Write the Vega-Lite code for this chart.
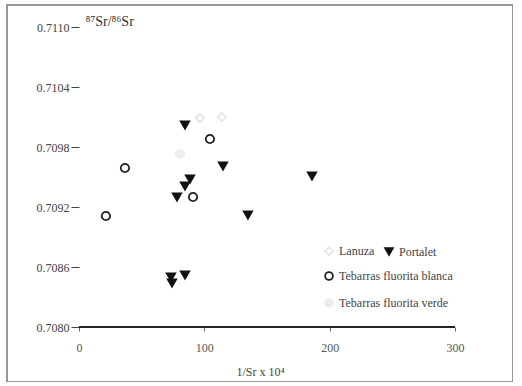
{
  "$schema": "https://vega.github.io/schema/vega-lite/v6.json",
  "width": 506,
  "height": 377,
  "autosize": {"type": "none"},
  "padding": {"left": 7, "top": 5, "right": 0, "bottom": 0},
  "background": "white",
  "config": {
    "view": {"stroke": "#777", "strokeWidth": 1.5},
    "font": "Liberation Serif",
    "legend": {
      "orient": "none", "columnPadding": 6, "rowPadding": 11,
      "labelFont": "Liberation Serif", "labelFontSize": 12, "labelColor": "#444", "symbolSize": 60, "symbolStrokeWidth": 1.8
    }
  },
  "resolve": {
    "scale": {"shape": "independent", "fill": "independent", "stroke": "independent"},
    "legend": {"shape": "independent", "fill": "independent", "stroke": "independent"}
  },
  "layer": [
    {
      "data": {
        "values": [
          {"inv_sr": 84.6, "ratio": 0.71002, "group": "Portalet"},
          {"inv_sr": 114.9, "ratio": 0.70961, "group": "Portalet"},
          {"inv_sr": 88.6, "ratio": 0.70948, "group": "Portalet"},
          {"inv_sr": 84.6, "ratio": 0.70941, "group": "Portalet"},
          {"inv_sr": 78.2, "ratio": 0.7093, "group": "Portalet"},
          {"inv_sr": 185.9, "ratio": 0.70951, "group": "Portalet"},
          {"inv_sr": 134.8, "ratio": 0.70912, "group": "Portalet"},
          {"inv_sr": 73.4, "ratio": 0.7085, "group": "Portalet"},
          {"inv_sr": 84.6, "ratio": 0.70852, "group": "Portalet"},
          {"inv_sr": 74.2, "ratio": 0.70844, "group": "Portalet"},
          {"inv_sr": 96.5, "ratio": 0.71009, "group": "Lanuza"},
          {"inv_sr": 114.0, "ratio": 0.7101, "group": "Lanuza"}
        ]
      },
      "mark": {"type": "point", "strokeWidth": 1.8, "opacity": 1, "size": 70},
      "encoding": {
        "x": {
          "field": "inv_sr", "type": "quantitative",
          "scale": {"domain": [-57.4, 346.3], "nice": false, "zero": false},
          "axis": {
            "values": [0, 100, 200, 300], "offset": -55, "domain": false, "grid": false,
            "tickSize": 4, "tickColor": "#666", "labelPadding": 11, "labelFontSize": 12, "labelColor": "#555",
            "title": "1/Sr x 10⁴", "titleFontSize": 12, "titleFontWeight": "normal", "titleColor": "#444", "titlePadding": 13
          }
        },
        "y": {
          "field": "ratio", "type": "quantitative",
          "scale": {"domain": [0.70745, 0.71122], "nice": false, "zero": false},
          "axis": {
            "values": [0.708, 0.7086, 0.7092, 0.7098, 0.7104, 0.711], "format": ".4f",
            "offset": -72, "domain": false, "grid": false,
            "tickSize": 8, "tickColor": "#444", "labelPadding": 2, "labelFontSize": 12, "labelColor": "#444",
            "title": "⁸⁷Sr/⁸⁶Sr", "titleAngle": 0, "titleAlign": "left", "titleBaseline": "middle",
            "titleX": 6, "titleY": 16, "titleFontSize": 14, "titleFontWeight": "normal", "titleColor": "#333"
          }
        },
        "shape": {
          "field": "group", "type": "nominal", "title": null,
          "scale": {"domain": ["Lanuza", "Portalet"], "range": ["diamond", "triangle-down"]},
          "legend": {"legendX": 316, "legendY": 240, "direction": "horizontal", "columns": 2}
        },
        "fill": {
          "field": "group", "type": "nominal", "title": null,
          "scale": {"domain": ["Lanuza", "Portalet"], "range": ["white", "#111"]},
          "legend": {"legendX": 316, "legendY": 240, "direction": "horizontal", "columns": 2}
        },
        "stroke": {
          "field": "group", "type": "nominal", "title": null,
          "scale": {"domain": ["Lanuza", "Portalet"], "range": ["#e6e6e6", "#111"]},
          "legend": {"legendX": 316, "legendY": 240, "direction": "horizontal", "columns": 2}
        }
      }
    },
    {
      "data": {
        "values": [
          {"inv_sr": 36.7, "ratio": 0.70959, "group": "Tebarras fluorita blanca"},
          {"inv_sr": 104.5, "ratio": 0.70988, "group": "Tebarras fluorita blanca"},
          {"inv_sr": 91.0, "ratio": 0.7093, "group": "Tebarras fluorita blanca"},
          {"inv_sr": 21.5, "ratio": 0.70911, "group": "Tebarras fluorita blanca"},
          {"inv_sr": 80.6, "ratio": 0.70973, "group": "Tebarras fluorita verde"}
        ]
      },
      "mark": {"type": "point", "strokeWidth": 1.8, "opacity": 1, "size": 70},
      "encoding": {
        "x": {"field": "inv_sr", "type": "quantitative"},
        "y": {"field": "ratio", "type": "quantitative"},
        "shape": {
          "field": "group", "type": "nominal", "title": null,
          "scale": {"domain": ["Tebarras fluorita blanca", "Tebarras fluorita verde"], "range": ["circle", "circle"]},
          "legend": {"legendX": 316, "legendY": 265, "direction": "vertical"}
        },
        "fill": {
          "field": "group", "type": "nominal", "title": null,
          "scale": {"domain": ["Tebarras fluorita blanca", "Tebarras fluorita verde"], "range": ["white", "#eeeeee"]},
          "legend": {"legendX": 316, "legendY": 265, "direction": "vertical"}
        },
        "stroke": {
          "field": "group", "type": "nominal", "title": null,
          "scale": {"domain": ["Tebarras fluorita blanca", "Tebarras fluorita verde"], "range": ["#222", "#eeeeee"]},
          "legend": {"legendX": 316, "legendY": 265, "direction": "vertical"}
        }
      }
    },
    {
      "data": {"values": [{"x0": 0, "x1": 300, "y": 0.708}]},
      "mark": {"type": "rule", "color": "#222", "strokeWidth": 2},
      "encoding": {
        "x": {"field": "x0", "type": "quantitative"},
        "x2": {"field": "x1"},
        "y": {"field": "y", "type": "quantitative"}
      }
    }
  ]
}
